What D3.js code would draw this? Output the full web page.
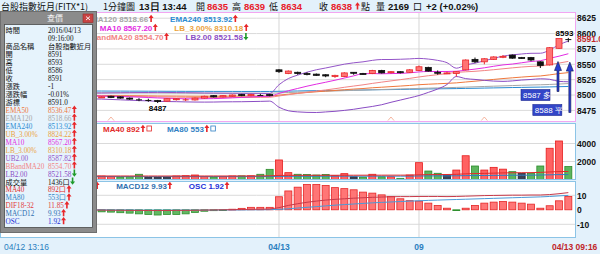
<!DOCTYPE html>
<html>
<head>
<meta charset="utf-8">
<script src="https://cdn.jsdelivr.net/npm/d3@7/dist/d3.min.js"></script>
<style>
  body { margin: 0; background: #e3f1fb; }
  svg { display: block; }
</style>
</head>
<body>
<div id="chart"></div>
<script>
const WIDTH = 600, HEIGHT = 254;
const RIGHT = 575;
const FONT = "'Liberation Sans', Arial, sans-serif";
const CJK = "'Noto Sans CJK TC', sans-serif";
const INFO_FONT = "'Liberation Serif', 'Noto Sans CJK TC', serif";

// ---- data (1 min bars, 04/12 13:16 .. 04/13 09:16) ----
const opens = [8499,8500,8499,8498,8499,8500,8498,8497,8498,8499,8498,
  8496,8498,8497,8495,8493,8492,8491,8490,8493,8493,8492,8495,8499,8497,8498,8501,8499,8500,8501,
  8541,8535,8537,8535,8534,8533,8530,8530,8537,8535,8535,8540,8537,8538,8537,8540,8545,8537,8535,8535,
  8541,8558,8554,8558,8562,8565,8561,8561,8554,8549,8576,8591];
const highs = [8501,8502,8500,8500,8501,8501,8499,8499,8500,8500,8499,
  8498,8499,8498,8496,8495,8494,8492,8495,8495,8495,8496,8499,8500,8500,8501,8502,8502,8502,8502,
  8542,8540,8538,8537,8535,8534,8533,8537,8537,8536,8541,8541,8539,8539,8542,8548,8546,8540,8538,8539,
  8558,8561,8560,8563,8565,8566,8562,8562,8555,8578,8592,8593];
const lows = [8497,8498,8497,8496,8498,8497,8496,8496,8497,8497,8496,
  8495,8495,8494,8492,8490,8489,8487,8489,8491,8490,8491,8494,8496,8496,8497,8498,8498,8499,8498,
  8536,8534,8533,8532,8531,8529,8528,8529,8533,8533,8534,8535,8535,8535,8536,8539,8538,8533,8534,8530,
  8540,8552,8550,8557,8560,8559,8559,8555,8544,8548,8575,8586];
const closes = [8500,8499,8498,8499,8500,8498,8497,8498,8499,8498,8497,
  8497,8496,8495,8494,8493,8492,8490,8494,8494,8493,8495,8498,8497,8499,8500,8499,8501,8500,8499,
  8538,8539,8535,8534,8532,8531,8532,8536,8536,8534,8540,8536,8538,8537,8541,8546,8539,8536,8536,8538,
  8557,8554,8559,8562,8563,8560,8560,8557,8548,8577,8592,8591];

const ema50 = [8499.6,8499.6,8499.6,8499.5,8499.5,8499.5,8499.4,8499.4,8499.4,8499.3,8499.3,8499.2,8499.1,8499.0,8498.9,
  8498.8,8498.6,8498.4,8498.3,8498.2,8498.1,8498.0,8498.0,8498.0,8498.0,8498.1,8498.1,8498.2,8498.2,8498.2,
  8499.8,8501.4,8502.8,8504.1,8505.3,8506.4,8507.4,8508.6,8509.7,8510.6,8511.8,8512.7,8513.7,8514.6,8515.6,8516.8,
  8517.6,8518.3,8519.0,8519.8,8521.2,8522.5,8523.9,8525.4,8526.8,8528.0,8529.2,8530.3,8531.0,8532.8,8534.9,8536.47];
const ema120 = [8504.0,8504.0,8503.9,8503.9,8503.9,8503.8,8503.8,8503.8,8503.7,8503.7,8503.7,8503.6,8503.6,8503.5,8503.5,
  8503.4,8503.3,8503.3,8503.2,8503.1,8503.1,8503.0,8503.0,8503.0,8502.9,8502.9,8502.9,8502.9,8502.9,8502.9,
  8503.5,8504.1,8504.6,8505.1,8505.6,8506.1,8506.6,8507.1,8507.6,8508.0,8508.5,8509.0,8509.4,8509.9,8510.3,8510.8,
  8511.2,8511.6,8512.0,8512.4,8512.9,8513.4,8513.9,8514.4,8514.9,8515.4,8515.9,8516.3,8516.7,8517.2,8517.9,8518.66];
const ema240 = [8506.8,8506.8,8506.8,8506.7,8506.7,8506.7,8506.6,8506.6,8506.6,8506.5,8506.5,8506.5,8506.4,8506.4,8506.3,
  8506.3,8506.2,8506.2,8506.1,8506.1,8506.0,8506.0,8506.0,8505.9,8505.9,8505.9,8505.8,8505.8,8505.8,8505.8,
  8506.1,8506.4,8506.6,8506.9,8507.1,8507.3,8507.5,8507.8,8508.0,8508.2,8508.5,8508.7,8508.9,8509.1,8509.4,8509.6,
  8509.9,8510.1,8510.3,8510.5,8510.8,8511.0,8511.3,8511.6,8511.9,8512.2,8512.4,8512.7,8512.9,8513.2,8513.6,8513.92];
const ma10 = [8499.0,8499.0,8498.9,8498.9,8498.9,8498.9,8498.8,8498.8,8498.8,8498.7,8498.5,8498.2,8497.9,8497.6,8497.1,
  8496.6,8496.0,8495.3,8494.8,8494.3,8493.9,8493.7,8494.0,8494.2,8494.7,8495.4,8496.1,8497.0,8497.6,8498.1,
  8502.6,8507.0,8510.7,8514.4,8517.7,8520.8,8524.1,8527.6,8531.2,8534.7,8534.9,8534.6,8534.9,8535.2,8536.1,8537.6,
  8538.3,8538.3,8538.3,8538.7,8540.4,8542.2,8544.3,8546.8,8549.0,8550.4,8552.5,8554.6,8555.8,8559.7,8563.2,8567.2];
const ma20 = [8498.8,8498.8,8498.8,8498.8,8498.7,8498.7,8498.7,8498.6,8498.6,8498.5,8498.4,8498.3,8498.1,8497.9,8497.7,
  8497.5,8497.3,8497.0,8496.8,8496.6,8496.3,8496.1,8495.9,8495.9,8496.0,8496.0,8496.0,8496.1,8496.2,8496.4,
  8498.5,8500.6,8502.5,8504.5,8506.4,8508.3,8510.3,8512.6,8514.6,8516.6,8518.9,8521.0,8523.0,8525.0,8527.1,8529.4,
  8531.4,8533.1,8534.9,8536.9,8537.8,8538.6,8539.8,8541.2,8542.7,8544.2,8545.6,8546.6,8547.2,8549.4,8552.0,8554.7];
const ub2 = [8502.6,8502.6,8502.5,8502.5,8502.6,8502.6,8502.7,8502.8,8502.9,8503.0,8503.1,8503.2,8503.4,8503.6,8503.8,
  8504.0,8504.1,8504.3,8504.2,8504.0,8503.8,8503.6,8503.3,8503.2,8503.1,8503.0,8502.9,8502.8,8502.7,8502.5,
  8516.8,8526.8,8532.4,8537.2,8541.1,8544.0,8547.1,8550.2,8552.4,8554.0,8556.4,8557.8,8557.8,8558.2,8558.8,8559.6,
  8558.5,8556.4,8552.6,8543.6,8548.9,8551.8,8555.7,8559.7,8563.2,8565.4,8566.8,8567.9,8568.0,8573.2,8581.8,8587.82];
const lb2 = [8495.0,8495.0,8495.1,8495.1,8494.8,8494.8,8494.7,8494.4,8494.3,8494.0,8493.7,8493.4,8492.8,8492.2,8491.6,
  8491.0,8490.5,8489.7,8489.4,8489.2,8488.8,8488.6,8488.5,8488.6,8488.9,8489.0,8489.1,8489.4,8489.7,8490.1,
  8480.2,8474.4,8472.6,8471.8,8471.6,8472.5,8473.5,8475.0,8476.8,8479.2,8481.4,8484.2,8488.2,8491.8,8495.4,8499.2,
  8504.3,8509.8,8517.2,8530.1,8526.7,8525.4,8523.9,8522.7,8522.2,8523.0,8524.4,8525.3,8526.4,8525.6,8522.2,8521.58];

const volumes = [420,380,510,300,450,260,390,330,480,350,400,
  380,320,280,310,580,240,260,250,390,420,500,340,280,320,390,400,410,580,1130,
  2170,760,580,560,500,560,420,650,300,250,580,300,300,130,500,1870,940,690,500,1050,
  2640,1500,1050,1350,1150,870,690,690,1500,3470,4280,1436];
const volDir = ["u","d","d","u","u","d","d","u","u","d","d",
  "u","u","d","d","d","f","f","f","u","u","u","u","d","u","u","d","u","d","d",
  "u","u","d","d","d","d","u","u","f","d","u","d","u","d","u","u","d","d","f","u",
  "u","d","u","u","u","d","f","d","d","u","u","d"];
const volMa40 = [400,400,398,396,395,395,394,393,392,392,391,390,390,389,389,388,388,387,387,387,388,388,389,389,390,390,391,392,395,410,
  450,460,462,464,466,468,470,475,476,478,480,482,483,483,485,520,540,550,555,575,630,660,680,705,730,745,755,765,790,840,880,892];
const volMa80 = [330,330,329,329,328,328,327,327,326,326,325,325,325,324,324,324,323,323,323,323,323,323,324,324,324,325,325,326,328,335,
  350,355,357,359,361,363,365,367,368,369,371,372,373,373,375,390,398,402,405,412,430,440,447,455,463,470,476,482,495,520,545,553];

const oscBars = [-0.5,-0.6,-0.7,-0.8,-0.9,-1.0,-1.1,-1.2,-1.2,-1.3,-1.3,
  -1.4,-1.6,-2.0,-2.3,-2.8,-3.2,-3.6,-3.2,-3.2,-2.8,-1.8,-1.0,-0.6,-0.1,0.4,1.0,1.7,1.7,1.7,
  9.0,13.0,15.6,17.5,17.5,16.8,15.3,14.6,13.8,12.2,11.5,10.3,9.2,7.6,6.3,6.0,4.6,3.0,1.1,-0.3,
  1.1,3.0,4.6,5.3,5.7,5.3,4.6,3.9,1.1,2.8,6.2,9.2];
const difLine = [0.3,0.3,0.2,0.2,0.1,0.1,0,0,-0.1,-0.1,-0.2,
  -0.2,-0.3,-0.3,-0.4,-0.4,-0.5,-0.5,-0.5,-0.4,-0.4,-0.3,-0.2,-0.1,0,0.1,0.2,0.3,0.4,0.5,
  1.5,3.0,4.2,5.2,6.0,6.7,7.2,7.6,8.0,8.3,8.6,8.8,9.0,9.1,9.1,9.2,9.2,9.2,9.1,9.2,
  9.4,9.6,9.8,9.9,10.0,10.1,10.1,10.2,10.2,10.5,11.1,11.85];
const macdLine = [0.2,0.2,0.2,0.2,0.1,0.1,0.1,0.1,0,0,0,
  0,-0.1,-0.1,-0.1,-0.2,-0.2,-0.2,-0.2,-0.2,-0.2,-0.2,-0.2,-0.2,-0.1,-0.1,-0.1,0,0,0.1,
  0.3,0.7,1.2,1.7,2.2,2.7,3.2,3.6,4.0,4.4,4.8,5.1,5.4,5.7,6.0,6.2,6.5,6.7,6.9,7.1,
  7.3,7.5,7.7,7.9,8.1,8.3,8.5,8.7,8.9,9.2,9.6,9.93];

const timeTicks = [0, 30, 45, 61];
const timeLabels = ["04/12 13:16", "04/13", "09", "04/13 09:16"];
const priceTicks = [8475, 8500, 8525, 8550, 8575, 8600, 8625];
const volTicks = [2000, 4000];
const oscTicks = [-10, 0, 10];
const markIdx = [12, 42, 52];          // small triangles under the price panel
const sigIdx = [60, 61], sigPrice = [8587, 8588], sigText = ["多", "平"];
const lastPrice = 8591.0, dayHigh = 8593, visLow = 8487;

const infoLabels = ["時間", "", "商品名稱", "開", "高", "低", "收", "漲跌", "漲跌幅", "游標",
  "EMA50", "EMA120", "EMA240", "UB_3.00%", "MA10", "LB_3.00%", "UB2.00", "BBandMA20", "LB2.00",
  "成交量", "MA40", "MA80", "DIF18-32", "MACD12", "OSC"];
const infoValues = ["2016/04/13", "09:16:00", "台股指數近月", "8591", "8593", "8586", "8591", "-1", "-0.01%", "8591.0",
  "8536.47", "8518.66", "8513.92", "8824.22", "8567.20", "8310.18", "8587.82", "8554.70", "8521.58",
  "1436口", "892口", "553口", "11.85", "9.93", "1.92"];
const infoTrend = ["", "", "", "", "", "", "", "", "", "",
  "u", "u", "u", "u", "u", "u", "u", "u", "d", "d", "u", "u", "u", "u", "u"];

// ---- style ----
const COLORS = {
  "EMA50": "#f0783c", "EMA120": "#a6a6a6", "EMA240": "#2a8bd2", "UB_3.00%": "#eba23c",
  "MA10": "#e22ce2", "LB_3.00%": "#eba23c", "UB2.00": "#9455c8", "BBandMA20": "#f28484",
  "LB2.00": "#8a4cc4", "MA40": "#e22a2a", "MA80": "#2f7fc4", "DIF18-32": "#e23c3c",
  "MACD12": "#2f6fb0", "OSC": "#2330d8"
};
const UP = "#e8262a", DOWN_ARROW = "#1f9a2a";

const N = closes.length;
const info = {};
infoLabels.forEach((k, i) => { if (k) info[k] = { v: infoValues[i], t: infoTrend[i] }; });

const MAIN = { top: 12.5, bottom: 121.5 };
const VOL = { top: 123.5, bottom: 179.5 };
const OSC = { top: 181.5, bottom: 237.5 };

const svg = d3.select("#chart").append("svg")
  .attr("width", WIDTH).attr("height", HEIGHT)
  .style("font-family", FONT);

svg.append("rect").attr("width", WIDTH).attr("height", HEIGHT).attr("fill", "#e3f1fb");

const x = d3.scaleBand().domain(d3.range(N)).range([-5.67, 573])
  .paddingInner(0.25).paddingOuter(0.125);
const xc = i => x(i) + x.bandwidth() / 2;

const yMain = d3.scaleLinear().domain([8475, 8625]).range([110.4, 18.2]);
const yVol = d3.scaleLinear().domain([0, 4000]).range([179.5, 143.5]);
const yOsc = d3.scaleLinear().domain([-10, 10]).range([224.3, 195.3]);

function panel(p, border, id) {
  svg.append("rect").attr("x", 0.5).attr("y", p.top).attr("width", RIGHT).attr("height", p.bottom - p.top)
    .attr("fill", "#fff").attr("stroke", border);
  svg.append("clipPath").attr("id", id).append("rect")
    .attr("x", 1).attr("y", p.top + 0.5).attr("width", RIGHT - 1).attr("height", p.bottom - p.top - 1);
  return svg.append("g").attr("clip-path", `url(#${id})`);
}

function upArrow(g, ax, ay, color, down) {
  // small trend arrow, ay = baseline
  const p = down
    ? `M${ax - 0.8},${ay - 7}h1.6v4h1.7l-2.5,3.2l-2.5,-3.2h1.7z`
    : `M${ax - 0.8},${ay}v-4h-1.7l2.5,-3.3l2.5,3.3h-1.7v4z`;
  g.append("path").attr("d", p).attr("fill", color);
}

function legendRow(g, items, x0, y, opts = {}) {
  let cx = x0;
  items.forEach(name => {
    const col = COLORS[name];
    const t = g.append("text").attr("x", cx).attr("y", y)
      .attr("font-size", 8).attr("font-weight", "bold").attr("fill", col)
      .text(`${name} ${info[name].v.replace("口", "")}`);
    cx += t.node().getComputedTextLength() + 3;
    upArrow(g, cx, y, info[name].t === "d" ? DOWN_ARROW : UP, info[name].t === "d");
    cx += 4;
    if (opts.box) {
      g.append("rect").attr("x", cx).attr("y", y - 6).attr("width", 4.5).attr("height", 5)
        .attr("fill", "none").attr("stroke", col).attr("stroke-width", 0.8);
      cx += 5;
    }
    cx += 15;
  });
}

// ---- price panel ----
const gMain = panel(MAIN, "#f2a6f2", "clipMain");
gMain.selectAll("line.hg").data(priceTicks).join("line")
  .attr("x1", 0).attr("x2", RIGHT).attr("y1", d => yMain(d)).attr("y2", d => yMain(d))
  .attr("stroke", "#dadada");
gMain.selectAll("line.vg").data([30, 45]).join("line")
  .attr("x1", d => xc(d)).attr("x2", d => xc(d)).attr("y1", MAIN.top).attr("y2", MAIN.bottom)
  .attr("stroke", "#d6d6d6");

const priceLines = [[ema240, "EMA240"], [ema120, "EMA120"], [ema50, "EMA50"],
  [ub2, "UB2.00"], [lb2, "LB2.00"], [ma20, "BBandMA20"], [ma10, "MA10"]];
priceLines.forEach(([arr, name]) => {
  gMain.append("path").datum(arr)
    .attr("d", d3.line().x((d, i) => xc(i)).y(d => yMain(d)).curve(d3.curveMonotoneX))
    .attr("fill", "none").attr("stroke", COLORS[name]).attr("stroke-width", 1);
});

const bodyW = 6;
const candle = gMain.selectAll("g.candle").data(d3.range(N)).join("g");
const cColor = i => closes[i] > opens[i] ? UP : (closes[i] < opens[i] ? "#111" : (volDir[i] === "u" ? UP : "#111"));
candle.append("line")
  .attr("x1", i => xc(i)).attr("x2", i => xc(i))
  .attr("y1", i => yMain(highs[i])).attr("y2", i => yMain(lows[i]))
  .attr("stroke", cColor);
candle.append("rect")
  .attr("x", i => xc(i) - bodyW / 2).attr("width", bodyW)
  .attr("y", i => yMain(Math.max(opens[i], closes[i])))
  .attr("height", i => Math.max(1, yMain(Math.min(opens[i], closes[i])) - yMain(Math.max(opens[i], closes[i]))))
  .attr("fill", i => closes[i] > opens[i] ? "#ff7474" : cColor(i))
  .attr("stroke", i => closes[i] === opens[i] ? "none" : cColor(i))
  .attr("stroke-width", 0.8);

gMain.selectAll("path.mark").data(markIdx).join("path")
  .attr("d", i => `M${xc(i) - 3},${MAIN.bottom - 1}L${xc(i)},${MAIN.bottom - 4.5}L${xc(i) + 3},${MAIN.bottom - 1}`)
  .attr("fill", "none").attr("stroke", "#f2a58a").attr("stroke-width", 0.8);

const lowIdx = lows.indexOf(visLow);
gMain.append("text").attr("x", xc(lowIdx)).attr("y", yMain(visLow) + 8)
  .attr("text-anchor", "middle").attr("font-size", 8).attr("font-weight", "bold").text(visLow);
const hiIdx = highs.lastIndexOf(dayHigh);
gMain.append("text").attr("x", xc(hiIdx) + 5).attr("y", yMain(dayHigh) - 2)
  .attr("text-anchor", "end").attr("font-size", 8).attr("font-weight", "bold").text(dayHigh);

// trade signals
sigIdx.forEach((idx, k) => {
  const ax = xc(idx) - (k === 0 ? 1 : -1.5);
  const tipY = yMain(closes[idx]) + 23;
  const baseY = MAIN.bottom - (k === 0 ? 30 : 9);
  gMain.append("path")
    .attr("d", `M${ax - 1},${baseY}V${tipY + 9}h-2.5l3.5,-9l3.5,9h-2.5V${baseY}z`)
    .attr("fill", "#2a3ed0").attr("stroke", "#101850").attr("stroke-width", 0.6);
  const bx = ax - 8 - 29, by = MAIN.bottom - (k === 0 ? 32 : 17);
  gMain.append("rect").attr("x", bx).attr("y", by).attr("width", 29).attr("height", 11)
    .attr("fill", "#3346c8").attr("stroke", "#1a2690").attr("stroke-width", 0.6);
  gMain.append("text").attr("x", bx + 2).attr("y", by + 8.5)
    .attr("font-size", 8).attr("fill", "#fff").text(`${sigPrice[k]} ${sigText[k]}`);
});

legendRow(gMain, ["EMA50", "EMA120", "EMA240"], 6, 22);
legendRow(gMain, ["UB_3.00%", "MA10", "LB_3.00%"], 8, 31);
legendRow(gMain, ["UB2.00", "BBandMA20", "LB2.00"], 5, 40);

// ---- volume panel ----
const gVol = panel(VOL, "#8cc4e6", "clipVol");
gVol.selectAll("line.hg").data(volTicks).join("line")
  .attr("x1", 0).attr("x2", RIGHT).attr("y1", d => yVol(d)).attr("y2", d => yVol(d)).attr("stroke", "#dadada");
gVol.selectAll("line.vg").data([30, 45]).join("line")
  .attr("x1", d => xc(d)).attr("x2", d => xc(d)).attr("y1", VOL.top).attr("y2", VOL.bottom).attr("stroke", "#d6d6d6");
const volFill = { u: "#ff6262", d: "#5db55d", f: "#3d4354" };
const volStroke = { u: "#e51d1d", d: "#2b8a2b", f: "#1f2330" };
gVol.selectAll("rect.v").data(volumes).join("rect")
  .attr("x", (d, i) => x(i)).attr("width", x.bandwidth())
  .attr("y", d => yVol(d)).attr("height", d => yVol(0) - yVol(d))
  .attr("fill", (d, i) => volFill[volDir[i]]).attr("stroke", (d, i) => volStroke[volDir[i]])
  .attr("stroke-width", 0.8);
[[volMa80, "MA80"], [volMa40, "MA40"]].forEach(([arr, name]) => {
  gVol.append("path").datum(arr)
    .attr("d", d3.line().x((d, i) => xc(i)).y(d => yVol(d)))
    .attr("fill", "none").attr("stroke", COLORS[name]).attr("stroke-width", 1);
});
legendRow(gVol, ["MA40", "MA80"], 103, 132, { box: true });

// ---- MACD panel ----
const gOsc = panel(OSC, "#8cc4e6", "clipOsc");
gOsc.selectAll("line.hg").data([-10, 10]).join("line")
  .attr("x1", 0).attr("x2", RIGHT).attr("y1", d => yOsc(d)).attr("y2", d => yOsc(d)).attr("stroke", "#dadada");
gOsc.selectAll("line.vg").data([30, 45]).join("line")
  .attr("x1", d => xc(d)).attr("x2", d => xc(d)).attr("y1", OSC.top).attr("y2", OSC.bottom).attr("stroke", "#d6d6d6");
gOsc.selectAll("rect.o").data(oscBars).join("rect")
  .attr("x", (d, i) => x(i)).attr("width", x.bandwidth())
  .attr("y", d => yOsc(Math.max(0, d))).attr("height", d => Math.max(0.8, Math.abs(yOsc(d) - yOsc(0))))
  .attr("fill", d => d >= 0 ? "#ff7676" : "#62b862").attr("stroke", d => d >= 0 ? "#e42626" : "#2f8f2f")
  .attr("stroke-width", 0.8);
[[macdLine, "MACD12", "#4a9ad8"], [difLine, "DIF18-32", "#c83a4a"]].forEach(([arr, name, col]) => {
  gOsc.append("path").datum(arr)
    .attr("d", d3.line().x((d, i) => xc(i)).y(d => yOsc(d)))
    .attr("fill", "none").attr("stroke", col).attr("stroke-width", 1);
});
legendRow(gOsc, ["DIF18-32", "MACD12", "OSC"], 39, 189);

// ---- right axes ----
function rightAxis(scale, ticks) {
  const g = svg.append("g").attr("transform", `translate(${RIGHT + 1},0)`)
    .call(d3.axisRight(scale).tickValues(ticks).tickSize(0).tickPadding(1).tickFormat(d => String(d)));
  g.select(".domain").remove();
  g.selectAll("text").attr("font-size", 8.5).attr("font-weight", "bold").attr("fill", "#111")
    .style("font-family", FONT);
  return g;
}
rightAxis(yMain, priceTicks);
rightAxis(yVol, volTicks);
rightAxis(yOsc, oscTicks);
svg.append("text").attr("x", RIGHT + 2).attr("y", yMain(lastPrice) + 3)
  .attr("font-size", 8.5).attr("font-weight", "bold").attr("fill", "#c42a2a").text(lastPrice.toFixed(1));

// ---- time axis ----
const tAxis = svg.append("g").attr("transform", `translate(0,${OSC.bottom + 0.5})`)
  .call(d3.axisBottom(x).tickValues(timeTicks).tickSize(0).tickPadding(6)
    .tickFormat(d => timeLabels[timeTicks.indexOf(d)]));
tAxis.select(".domain").remove();
tAxis.selectAll("text").attr("font-size", 8.5).style("font-family", FONT)
  .attr("fill", (d, i) => i === 3 ? "#c0262a" : "#2a7fc0")
  .attr("font-weight", (d, i) => i === 0 ? "normal" : "bold")
  .attr("text-anchor", (d, i) => i === 0 ? "start" : (i === 3 ? "end" : "middle"))
  .attr("dx", (d, i) => i === 0 ? 5 : (i === 3 ? 29 : 0));

// ---- title bar ----
const titleParts = [
  ["台股指數近月(FITX*1)", 1, "#111", "normal", CJK],
  ["1分鐘圖", 103, "#111", "normal", CJK],
  ["13日 13:44", 139, "#111", "bold", FONT],
  ["開", 196, "#111", "normal", CJK], ["8635", 207, "#e8202a", "bold", FONT],
  ["高", 232, "#111", "normal", CJK], ["8639", 244, "#e8202a", "bold", FONT],
  ["低", 269, "#111", "normal", CJK], ["8634", 281, "#e8202a", "bold", FONT],
  ["收", 319, "#111", "normal", CJK], ["8638", 331, "#e8202a", "bold", FONT],
  ["點", 361, "#111", "normal", CJK],
  ["量", 376, "#111", "normal", CJK], ["2169", 388, "#111", "bold", FONT],
  ["口", 413, "#111", "normal", CJK], ["+2 (+0.02%)", 426, "#111", "bold", FONT]
];
titleParts.forEach(([t, tx, col, w, f]) => {
  svg.append("text").attr("x", tx).attr("y", 9.5).attr("font-size", f === CJK ? 9 : 9.5)
    .attr("font-weight", w).attr("fill", col).style("font-family", f).text(t);
});
upArrow(svg, 357.5, 9.5, UP, false);

// ---- floating quote window ----
const win = svg.append("g");
win.append("rect").attr("x", 0).attr("y", 11).attr("width", 97).attr("height", 222).attr("fill", "#8b8b8b");
win.append("rect").attr("x", 0.5).attr("y", 11.5).attr("width", 96).attr("height", 221)
  .attr("fill", "none").attr("stroke", "#6e6e6e");
win.append("text").attr("x", 55).attr("y", 21).attr("text-anchor", "middle")
  .attr("font-size", 8).attr("fill", "#f4f4f4").style("font-family", CJK).text("查價");
win.append("rect").attr("x", 83).attr("y", 14).attr("width", 10).attr("height", 8.5)
  .attr("fill", "#c94444").attr("stroke", "#9a2a2a").attr("stroke-width", 0.6);
win.append("path").attr("d", "M86,16.5l4,3.5M90,16.5l-4,3.5").attr("stroke", "#fff").attr("stroke-width", 0.9);
win.append("rect").attr("x", 4.5).attr("y", 24.5).attr("width", 88).attr("height", 203)
  .attr("fill", "#e6f3fc").attr("stroke", "#4a4a4a").attr("stroke-width", 0.8);

const rowY = d3.scaleLinear().domain([0, 24]).range([33.3, 224.3]);
infoLabels.forEach((lab, i) => {
  const col = COLORS[lab] || "#111";
  win.append("text").attr("x", 5.5).attr("y", rowY(i)).attr("font-size", 7.2)
    .attr("fill", col).style("font-family", INFO_FONT).text(lab);
  const vt = win.append("text").attr("x", 48).attr("y", rowY(i)).attr("font-size", 7.2)
    .attr("fill", col).style("font-family", INFO_FONT).text(infoValues[i]);
  if (infoTrend[i]) {
    const ex = 48 + vt.node().getComputedTextLength() + 3;
    upArrow(win, ex, rowY(i), infoTrend[i] === "d" ? DOWN_ARROW : UP, infoTrend[i] === "d");
  }
});
</script>
</body>
</html>
